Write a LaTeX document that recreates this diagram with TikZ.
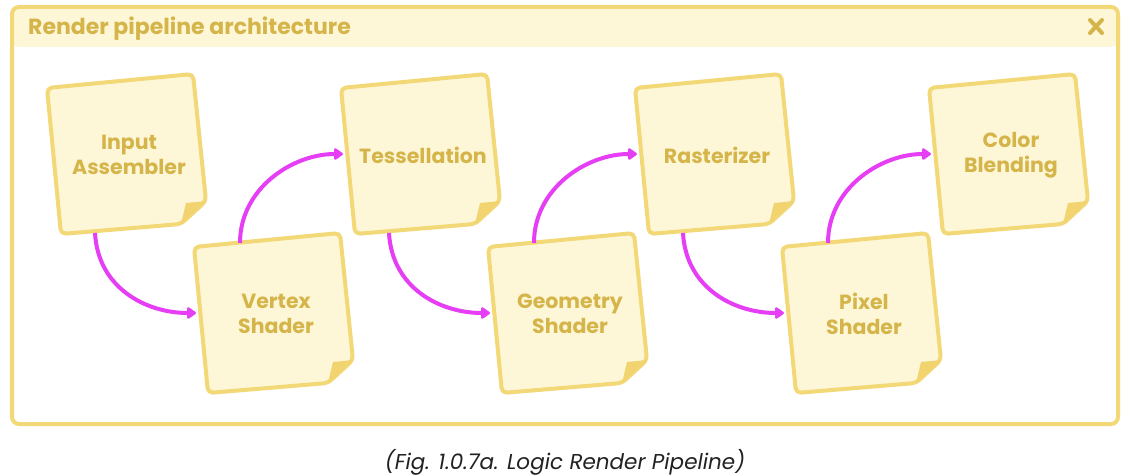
\documentclass[tikz,border=0pt]{standalone}
\usepackage{fontspec}
\setmainfont{Poppins}
\usetikzlibrary{arrows.meta}
\definecolor{bord}{HTML}{F3D877}
\definecolor{paper}{HTML}{FDF7D8}
\definecolor{gold}{HTML}{D5B54A}
\definecolor{foldc}{HTML}{F1D470}
\definecolor{flowc}{HTML}{E63EF4}
\definecolor{captc}{HTML}{222222}
\tikzset{
  notebody/.style={fill=paper,draw=bord,line width=4pt,rounded corners=5pt,line join=round},
  notefold/.style={fill=foldc,draw=none},
  notetext/.style={text=gold,font=\bfseries\fontsize{20.5}{25}\selectfont,align=center,inner sep=0pt},
  flow/.style={draw=flowc,line width=4pt,-{Triangle[length=10pt,width=13pt,round]}},
  framebox/.style={draw=bord,line width=4pt,rounded corners=7pt},
}
\newcommand{\stickynote}[4]{%
  \begin{scope}[shift={(#2,#3)}]
    \path[notebody] (47,88) -- (193,74) -- (206,201) -- (181,224) -- (61,234) -- cycle;
    \path[notefold] (206,201) .. controls (196,211) .. (181,224) -- (186,203) -- cycle;
    \node[notetext] (#1) at (129,155) {#4};
    \coordinate (#1-in) at (49,154);
    \coordinate (#1-top) at (93,84);
    \coordinate (#1-bot) at (95,233);
  \end{scope}}
\begin{document}
\begin{tikzpicture}[x=1pt,y=-1pt]
\useasboundingbox (0,0) rectangle (1136,476);
\fill[white] (0,0) rectangle (1136,476);
% frame
\fill[paper,rounded corners=7pt] (12,7) rectangle (1118,47);
\fill[white] (12,47) rectangle (1118,424);
\draw[framebox] (12,7) rectangle (1118,424);
\node[anchor=west,text=gold,font=\bfseries\fontsize{22}{26}\selectfont,inner sep=0pt] (title) at (28,29) {Render pipeline architecture};
\draw[gold,line width=4pt,line cap=round] (1090,20) -- (1102,33) (1090,33) -- (1102,20);
% notes
\stickynote{ia}{0}{0}{Input\\Assembler}
\stickynote{vs}{147}{159}{Vertex\\Shader}
\stickynote{ts}{294}{0}{Tessellation}
\stickynote{gs}{441}{159}{Geometry\\Shader}
\stickynote{rs}{588}{0}{Rasterizer}
\stickynote{ps}{735}{159}{Pixel\\Shader}
\stickynote{cb}{882}{0}{Color\\Blending}
% connectors
\draw[flow] (ia-bot) .. controls +(3,55) and +(-50,0) .. (vs-in);
\draw[flow] (vs-top) .. controls +(0,-55) and +(-50,0) .. (ts-in);
\draw[flow] (ts-bot) .. controls +(3,55) and +(-50,0) .. (gs-in);
\draw[flow] (gs-top) .. controls +(0,-55) and +(-50,0) .. (rs-in);
\draw[flow] (rs-bot) .. controls +(3,55) and +(-50,0) .. (ps-in);
\draw[flow] (ps-top) .. controls +(0,-55) and +(-50,0) .. (cb-in);
% caption
\node[text=captc,font=\itshape\fontsize{21.5}{25}\selectfont,inner sep=0pt] (cap) at (565,462) {(Fig. 1.0.7a. Logic Render Pipeline)};
\end{tikzpicture}
\end{document}
